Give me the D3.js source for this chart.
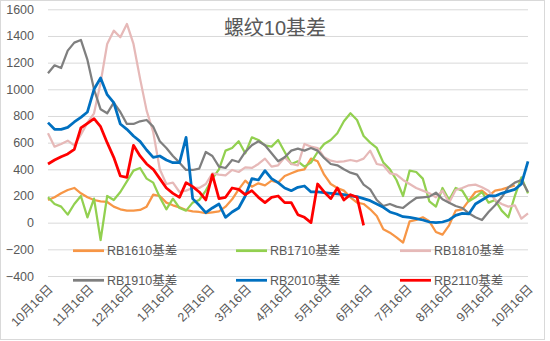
<!DOCTYPE html>
<html>
<head>
<meta charset="utf-8">
<script src="https://cdn.jsdelivr.net/npm/d3@7"></script>
<style>
  html, body { margin: 0; padding: 0; background: #fff; }
  svg { display: block; }
  text { font-family: "Liberation Sans", "Noto Sans CJK SC", sans-serif; fill: #595959; }
</style>
</head>
<body>
<svg id="chart" width="550" height="341"></svg>
<script>
// ---- data ----
const title = "螺纹10基差";
const startDate = "2016-10-16";   // season start (day 0); points every 5 days
const stepDays = 5;
const yTicks = [-400, -200, 0, 200, 400, 600, 800, 1000, 1200, 1400, 1600];
const xTickLabels = ["10月16日","11月16日","12月16日","1月16日","2月16日","3月16日","4月16日","5月16日","6月16日","7月16日","8月16日","9月16日","10月16日"];
const seriesNames = ["RB1610基差","RB1710基差","RB1810基差","RB1910基差","RB2010基差","RB2110基差"];
const seriesColors = ["#F79646","#92D050","#E6B9B8","#7F7F7F","#0070C0","#FF0000"];

const rb1610 = [170,190,220,245,260,220,190,170,160,155,120,100,90,90,95,120,210,200,150,130,115,95,85,80,72,78,85,120,175,250,315,270,295,280,315,300,350,370,390,400,480,460,360,290,260,240,190,150,140,100,50,-50,-75,-110,-150,10,20,40,10,-70,-90,-20,90,100,165,230,240,200,240,250,265,280,null,null];
const rb1710 = [190,140,120,60,140,200,40,180,-130,200,170,230,310,390,410,330,300,190,100,180,110,90,150,170,240,330,400,540,560,610,520,640,620,580,570,620,530,440,460,420,450,530,590,620,670,760,820,770,650,600,560,450,400,320,200,390,380,330,160,120,260,170,260,240,160,190,230,150,170,90,40,200,340,220];
const rb1810 = [670,570,590,615,580,660,750,820,1050,1340,1440,1390,1490,1340,1080,840,680,400,290,300,230,240,260,260,290,370,360,355,395,380,415,410,440,480,420,430,490,440,430,590,570,560,490,465,455,460,470,460,480,540,440,430,370,360,320,290,260,240,220,190,240,150,245,260,280,285,265,240,170,140,120,130,30,70];
const rb1910 = [1120,1180,1160,1290,1350,1370,1220,1000,850,820,900,830,740,740,760,770,720,610,560,500,450,395,395,405,530,500,420,410,470,455,530,580,610,580,520,460,490,540,555,540,560,540,485,440,430,400,375,360,285,250,170,125,140,120,110,150,185,190,195,225,175,150,125,110,70,40,20,80,130,190,265,300,320,230];
const rb2010 = [750,700,700,715,755,790,830,1000,1085,960,900,740,700,650,610,545,490,500,470,450,450,640,180,130,75,110,140,40,80,110,200,330,320,390,330,300,260,240,265,275,230,230,225,220,215,210,200,195,180,165,140,115,80,65,45,40,30,20,5,0,5,20,55,70,65,140,170,200,200,220,235,250,290,460];
const rb2110 = [440,470,495,515,550,710,745,780,720,600,490,350,340,580,500,440,400,330,260,220,190,300,270,230,170,360,180,190,260,250,210,240,190,150,190,200,150,150,60,40,0,290,230,180,260,170,210,190,-20];
const seriesData = [rb1610, rb1710, rb1810, rb1910, rb2010, rb2110];

// ---- layout ----
const svg = d3.select("#chart");
const plot = { left: 48, right: 528, top: 9.3, bottom: 276 };

const parse = d3.timeParse("%Y-%m-%d");
const t0 = parse(startDate);
const t1 = d3.timeYear.offset(t0, 1);
const x = d3.scaleTime().domain([t0, t1]).range([plot.left, plot.right]);
const y = d3.scaleLinear().domain([-400, 1600]).range([plot.bottom, plot.top]);
const dateAt = i => d3.timeDay.offset(t0, i * stepDays);

// outer border
svg.append("rect").attr("x", 0.5).attr("y", 0.5).attr("width", 544).attr("height", 339)
  .attr("fill", "none").attr("stroke", "#d9d9d9");

// gridlines + y axis labels
const yAxis = d3.axisLeft(y).tickValues(yTicks).tickSize(-(plot.right - plot.left)).tickPadding(14).tickFormat(d3.format("d"));
const gy = svg.append("g").attr("transform", `translate(${plot.left},0)`).call(yAxis);
gy.select(".domain").remove();
gy.selectAll(".tick line").attr("stroke", "#d9d9d9").attr("stroke-width", 1);
gy.selectAll(".tick text").attr("font-size", 12.5).attr("fill", "#595959")
  .style("font-family", '"Liberation Sans", sans-serif');

// x axis labels
const xTickDates = xTickLabels.map((_, i) => d3.timeMonth.offset(t0, i));
const xAxis = d3.axisBottom(x).tickValues(xTickDates).tickSize(0).tickFormat((d, i) => xTickLabels[i]);
const gx = svg.append("g").attr("transform", `translate(0,${plot.bottom})`).call(xAxis);
gx.select(".domain").remove();
gx.selectAll(".tick text")
  .attr("font-size", 12.5).attr("fill", "#595959")
  .attr("text-anchor", "end")
  .attr("dy", 0).attr("y", 0)
  .attr("transform", "translate(5,14) rotate(-45)");

// lines
const line = d3.line()
  .defined(d => d != null)
  .x((d, i) => x(dateAt(i)))
  .y(d => y(d));
seriesData.forEach((s, k) => {
  svg.append("path")
    .datum(s)
    .attr("fill", "none")
    .attr("stroke", seriesColors[k])
    .attr("stroke-width", k >= 4 ? 2.75 : 2.25)
    .attr("stroke-linejoin", "round")
    .attr("d", line);
});

// legend
const legCols = [73, 236, 400];
const legRows = [250.7, 280.3];
seriesNames.forEach((name, k) => {
  const cx = legCols[k % 3], cy = legRows[Math.floor(k / 3)];
  const g = svg.append("g");
  g.append("line").attr("x1", cx).attr("x2", cx + 31).attr("y1", cy).attr("y2", cy)
    .attr("stroke", seriesColors[k]).attr("stroke-width", 2.75);
  g.append("text").attr("x", cx + 34).attr("y", cy).attr("dy", "0.36em")
    .attr("font-size", 12.5).text(name);
});

// title
svg.append("text").attr("x", 275).attr("y", 35).attr("text-anchor", "middle")
  .attr("font-size", 20).text(title);
</script>
</body>
</html>
